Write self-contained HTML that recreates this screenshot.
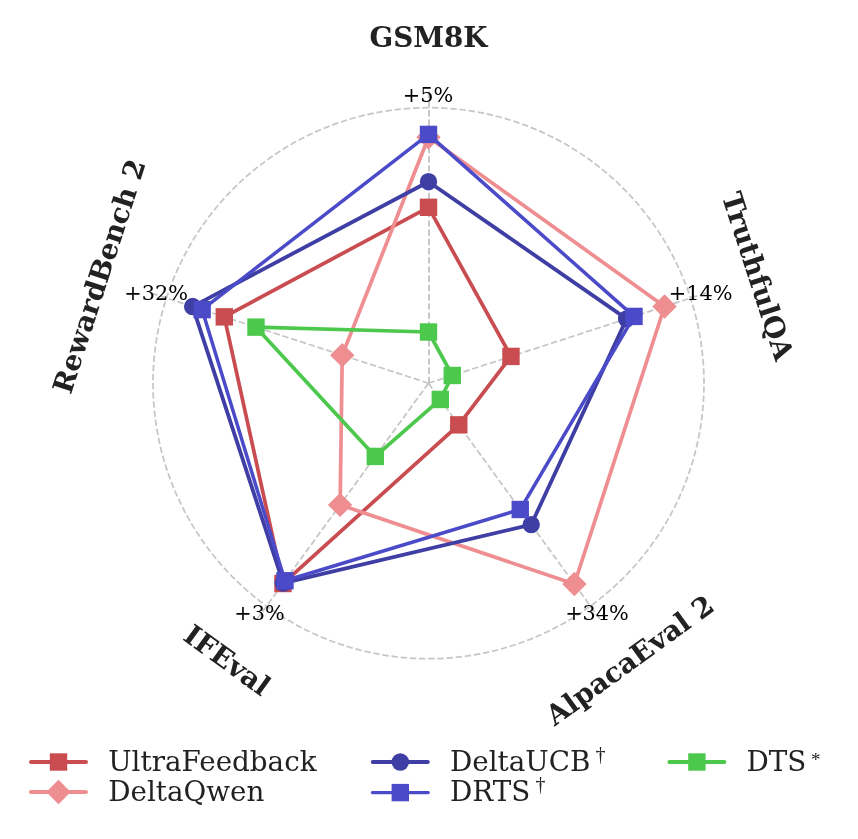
<!DOCTYPE html>
<html><head><meta charset="utf-8"><title>Radar</title>
<style>html,body{margin:0;padding:0;background:#fff}svg{display:block}</style></head>
<body>
<svg width="858" height="839" viewBox="0 0 858 839">
<rect width="858" height="839" fill="#ffffff"/>
<line x1="429" y1="383.2" x2="429" y2="91.60" stroke="#c6c6c6" stroke-width="1.9" stroke-dasharray="6.4 2.8"/>
<line x1="428.5" y1="383.2" x2="705.83" y2="293.09" stroke="#c6c6c6" stroke-width="1.74" stroke-dasharray="6.4 2.8"/>
<line x1="428.5" y1="383.2" x2="599.90" y2="619.11" stroke="#c6c6c6" stroke-width="1.74" stroke-dasharray="6.4 2.8"/>
<line x1="428.5" y1="383.2" x2="257.10" y2="619.11" stroke="#c6c6c6" stroke-width="1.74" stroke-dasharray="6.4 2.8"/>
<line x1="428.5" y1="383.2" x2="151.17" y2="293.09" stroke="#c6c6c6" stroke-width="1.74" stroke-dasharray="6.4 2.8"/>
<path d="M428.5,107.69999999999999 A275.5,275.5 0 1 0 428.5,658.7 A275.5,275.5 0 1 0 428.5,107.69999999999999" fill="none" stroke="#c6c6c6" stroke-width="1.74" stroke-dasharray="6.4 2.8"/>
<polygon points="428.50,207.30 510.96,356.41 458.77,424.86 282.96,583.51 224.31,316.85" fill="none" stroke="#c94c50" stroke-width="3.7" stroke-linejoin="round"/>
<rect x="419.80" y="198.60" width="17.40" height="17.40" fill="#c94c50"/>
<rect x="502.26" y="347.71" width="17.40" height="17.40" fill="#c94c50"/>
<rect x="450.07" y="416.16" width="17.40" height="17.40" fill="#c94c50"/>
<rect x="274.26" y="574.81" width="17.40" height="17.40" fill="#c94c50"/>
<rect x="215.61" y="308.15" width="17.40" height="17.40" fill="#c94c50"/>
<polygon points="428.50,137.30 664.55,306.50 574.39,584.00 340.10,504.88 342.24,355.17" fill="none" stroke="#ee8e90" stroke-width="3.7" stroke-linejoin="round"/>
<polygon points="428.50,125.10 440.70,137.30 428.50,149.50 416.30,137.30" fill="#ee8e90"/>
<polygon points="664.55,294.30 676.75,306.50 664.55,318.70 652.35,306.50" fill="#ee8e90"/>
<polygon points="574.39,571.80 586.59,584.00 574.39,596.20 562.19,584.00" fill="#ee8e90"/>
<polygon points="340.10,492.68 352.30,504.88 340.10,517.08 327.90,504.88" fill="#ee8e90"/>
<polygon points="342.24,342.97 354.44,355.17 342.24,367.37 330.04,355.17" fill="#ee8e90"/>
<polygon points="428.50,181.70 626.61,318.83 531.24,524.62 283.26,583.11 192.64,306.56" fill="none" stroke="#3e3ea4" stroke-width="3.8" stroke-linejoin="round"/>
<circle cx="428.50" cy="181.70" r="8.70" fill="#3e3ea4"/>
<circle cx="626.61" cy="318.83" r="8.70" fill="#3e3ea4"/>
<circle cx="531.24" cy="524.62" r="8.70" fill="#3e3ea4"/>
<circle cx="283.26" cy="583.11" r="8.70" fill="#3e3ea4"/>
<circle cx="192.64" cy="306.56" r="8.70" fill="#3e3ea4"/>
<polygon points="428.50,134.40 634.02,316.42 520.25,509.49 284.96,580.76 202.15,309.65" fill="none" stroke="#4b4bc9" stroke-width="3.5" stroke-linejoin="round"/>
<rect x="419.80" y="125.70" width="17.40" height="17.40" fill="#4b4bc9"/>
<rect x="625.32" y="307.72" width="17.40" height="17.40" fill="#4b4bc9"/>
<rect x="511.55" y="500.79" width="17.40" height="17.40" fill="#4b4bc9"/>
<rect x="276.26" y="572.06" width="17.40" height="17.40" fill="#4b4bc9"/>
<rect x="193.45" y="300.95" width="17.40" height="17.40" fill="#4b4bc9"/>
<polygon points="428.50,332.00 452.28,375.47 440.31,399.46 375.31,456.42 255.98,327.14" fill="none" stroke="#4cc84c" stroke-width="3.7" stroke-linejoin="round"/>
<rect x="419.80" y="323.30" width="17.40" height="17.40" fill="#4cc84c"/>
<rect x="443.58" y="366.77" width="17.40" height="17.40" fill="#4cc84c"/>
<rect x="431.61" y="390.76" width="17.40" height="17.40" fill="#4cc84c"/>
<rect x="366.61" y="447.72" width="17.40" height="17.40" fill="#4cc84c"/>
<rect x="247.28" y="318.44" width="17.40" height="17.40" fill="#4cc84c"/>
<text x="428.0" y="101.9" font-family="DejaVu Serif, Liberation Serif, serif" font-size="20.83" text-anchor="middle" fill="#000000">+5%</text>
<text x="700.7" y="299.7" font-family="DejaVu Serif, Liberation Serif, serif" font-size="20.83" text-anchor="middle" fill="#000000">+14%</text>
<text x="597.0" y="619.9" font-family="DejaVu Serif, Liberation Serif, serif" font-size="20.83" text-anchor="middle" fill="#000000">+34%</text>
<text x="259.6" y="620.4" font-family="DejaVu Serif, Liberation Serif, serif" font-size="20.83" text-anchor="middle" fill="#000000">+3%</text>
<text x="156.1" y="299.7" font-family="DejaVu Serif, Liberation Serif, serif" font-size="20.83" text-anchor="middle" fill="#000000">+32%</text>
<text transform="translate(428.50,38.85) rotate(0)" x="0" y="7.75" font-family="DejaVu Serif, Liberation Serif, serif" font-size="27.78" font-weight="bold" text-anchor="middle" fill="#222222">GSM8K</text>
<text transform="translate(756.00,276.79) rotate(72)" x="0" y="7.75" font-family="DejaVu Serif, Liberation Serif, serif" font-size="27.78" font-weight="bold" text-anchor="middle" fill="#222222">TruthfulQA</text>
<text transform="translate(630.90,661.79) rotate(-36)" x="0" y="7.75" font-family="DejaVu Serif, Liberation Serif, serif" font-size="27.78" font-weight="bold" text-anchor="middle" fill="#222222">AlpacaEval 2</text>
<text transform="translate(226.10,661.79) rotate(36)" x="0" y="7.75" font-family="DejaVu Serif, Liberation Serif, serif" font-size="27.78" font-weight="bold" text-anchor="middle" fill="#222222">IFEval</text>
<text transform="translate(101.00,276.79) rotate(-72)" x="0" y="7.75" font-family="DejaVu Serif, Liberation Serif, serif" font-size="27.78" font-weight="bold" text-anchor="middle" fill="#222222">RewardBench 2</text>
<line x1="31.05" y1="762.0" x2="85.95" y2="762.0" stroke="#c94c50" stroke-width="4.1" stroke-linecap="round"/><rect x="49.80" y="753.30" width="17.40" height="17.40" fill="#c94c50"/><text x="108.2" y="771.0" font-family="DejaVu Serif, Liberation Serif, serif" font-size="27.78" fill="#222222">UltraFeedback</text>
<line x1="31.05" y1="792.0" x2="85.95" y2="792.0" stroke="#ee8e90" stroke-width="4.1" stroke-linecap="round"/><polygon points="58.50,779.80 70.70,792.00 58.50,804.20 46.30,792.00" fill="#ee8e90"/><text x="108.2" y="801.0" font-family="DejaVu Serif, Liberation Serif, serif" font-size="27.78" fill="#222222">DeltaQwen</text>
<line x1="372.85" y1="762.0" x2="427.75" y2="762.0" stroke="#3e3ea4" stroke-width="4.1" stroke-linecap="round"/><circle cx="400.30" cy="762.00" r="8.70" fill="#3e3ea4"/><text x="450.0" y="771.0" font-family="DejaVu Serif, Liberation Serif, serif" font-size="27.78" fill="#222222">DeltaUCB</text><text x="600.4" y="760.9" font-family="Liberation Serif, DejaVu Serif, serif" font-size="20" text-anchor="middle" fill="#222222">†</text>
<line x1="372.35" y1="792.6" x2="428.25" y2="792.6" stroke="#4b4bc9" stroke-width="3.1" stroke-linecap="round"/><rect x="391.60" y="783.90" width="17.40" height="17.40" fill="#4b4bc9"/><text x="450.0" y="801.1" font-family="DejaVu Serif, Liberation Serif, serif" font-size="27.78" fill="#222222">DRTS</text><text x="540.6" y="791.2" font-family="Liberation Serif, DejaVu Serif, serif" font-size="20" text-anchor="middle" fill="#222222">†</text>
<line x1="669.4" y1="762.0" x2="724.4000000000001" y2="762.0" stroke="#4cc84c" stroke-width="4.0" stroke-linecap="round"/><rect x="688.20" y="753.30" width="17.40" height="17.40" fill="#4cc84c"/><text x="746.6" y="771.0" font-family="DejaVu Serif, Liberation Serif, serif" font-size="27.78" fill="#222222">DTS</text><text x="815.8" y="766" font-family="Liberation Serif, DejaVu Serif, serif" font-size="19" text-anchor="middle" fill="#222222">*</text>
</svg>
</body></html>
